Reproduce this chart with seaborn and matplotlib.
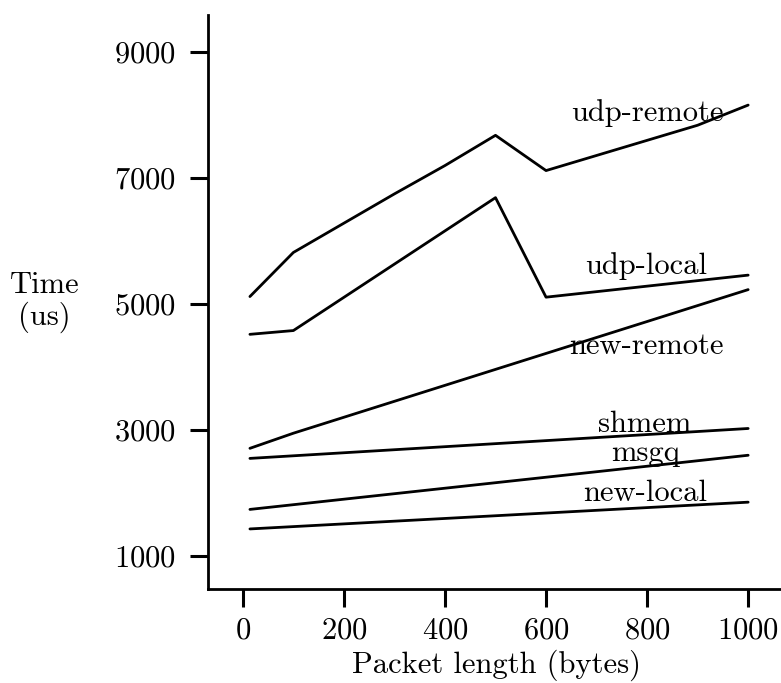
import matplotlib
matplotlib.use("Agg")
import matplotlib.pyplot as plt
import seaborn as sns
import pandas as pd

# ---- data ----
udp_remote_x = [14, 100, 300, 400, 500, 600, 800, 900, 1000]
udp_remote_y = [5120, 5820, 6750, 7200, 7680, 7120, 7600, 7840, 8160]
udp_local_x = [14, 100, 500, 600, 1000]
udp_local_y = [4520, 4580, 6690, 5110, 5460]
new_remote_x = [14, 100, 1000]
new_remote_y = [2710, 2950, 5230]
shmem_x = [14, 1000]
shmem_y = [2550, 3025]
msgq_x = [14, 1000]
msgq_y = [1740, 2600]
new_local_x = [14, 1000]
new_local_y = [1430, 1855]

series_names = ["udp-remote", "udp-local", "new-remote", "shmem", "msgq", "new-local"]
series_x = [udp_remote_x, udp_local_x, new_remote_x, shmem_x, msgq_x, new_local_x]
series_y = [udp_remote_y, udp_local_y, new_remote_y, shmem_y, msgq_y, new_local_y]
label_pos = [(800, 8030), (798, 5600), (798, 4330), (796, 3095), (796, 2630), (796, 2000)]

x_ticks = [0, 200, 400, 600, 800, 1000]
y_ticks = [1000, 3000, 5000, 7000, 9000]

sns.set_style("ticks")
plt.rcParams["font.family"] = ["cmr10", "DejaVu Serif"]
plt.rcParams["axes.formatter.use_mathtext"] = True

FS = 22

fig = plt.figure(figsize=(7.81, 6.83), dpi=100)
ax = fig.add_axes([0.2663, 0.1376, 0.7337, 0.8404])

rows = []
for name, xs, ys in zip(series_names, series_x, series_y):
    for xv, yv in zip(xs, ys):
        rows.append({"series": name, "x": xv, "y": yv})
df = pd.DataFrame(rows)

for name in series_names:
    sub = df[df["series"] == name]
    sns.lineplot(data=sub, x="x", y="y", color="black", linewidth=2.0, ax=ax,
                 sort=False, estimator=None)

for name, (lx, ly) in zip(series_names, label_pos):
    ax.text(lx, ly, name, ha="center", va="center", fontsize=FS, color="black")

ax.set_xlim(-69, 1065)
ax.set_ylim(476, 9590)
ax.set_xticks(x_ticks)
ax.set_yticks(y_ticks)
ax.tick_params(axis="both", direction="out", length=13, width=2.2, labelsize=FS,
               color="black", labelcolor="black")
ax.tick_params(axis="x", pad=7)
ax.tick_params(axis="y", pad=10)

for s in ["top", "right"]:
    ax.spines[s].set_visible(False)
for s in ["left", "bottom"]:
    ax.spines[s].set_linewidth(2.0)
    ax.spines[s].set_color("black")

ax.set_xlabel("Packet length (bytes)", fontsize=FS, va="center", color="black")
ax.xaxis.set_label_coords(0.504, -0.133)
ax.set_ylabel("Time\n(us)", fontsize=FS, rotation=0, va="center", ha="center",
              linespacing=1.1, color="black")
ax.yaxis.set_label_coords(-0.285, 0.500)

fig.savefig("out.png", dpi=100)
